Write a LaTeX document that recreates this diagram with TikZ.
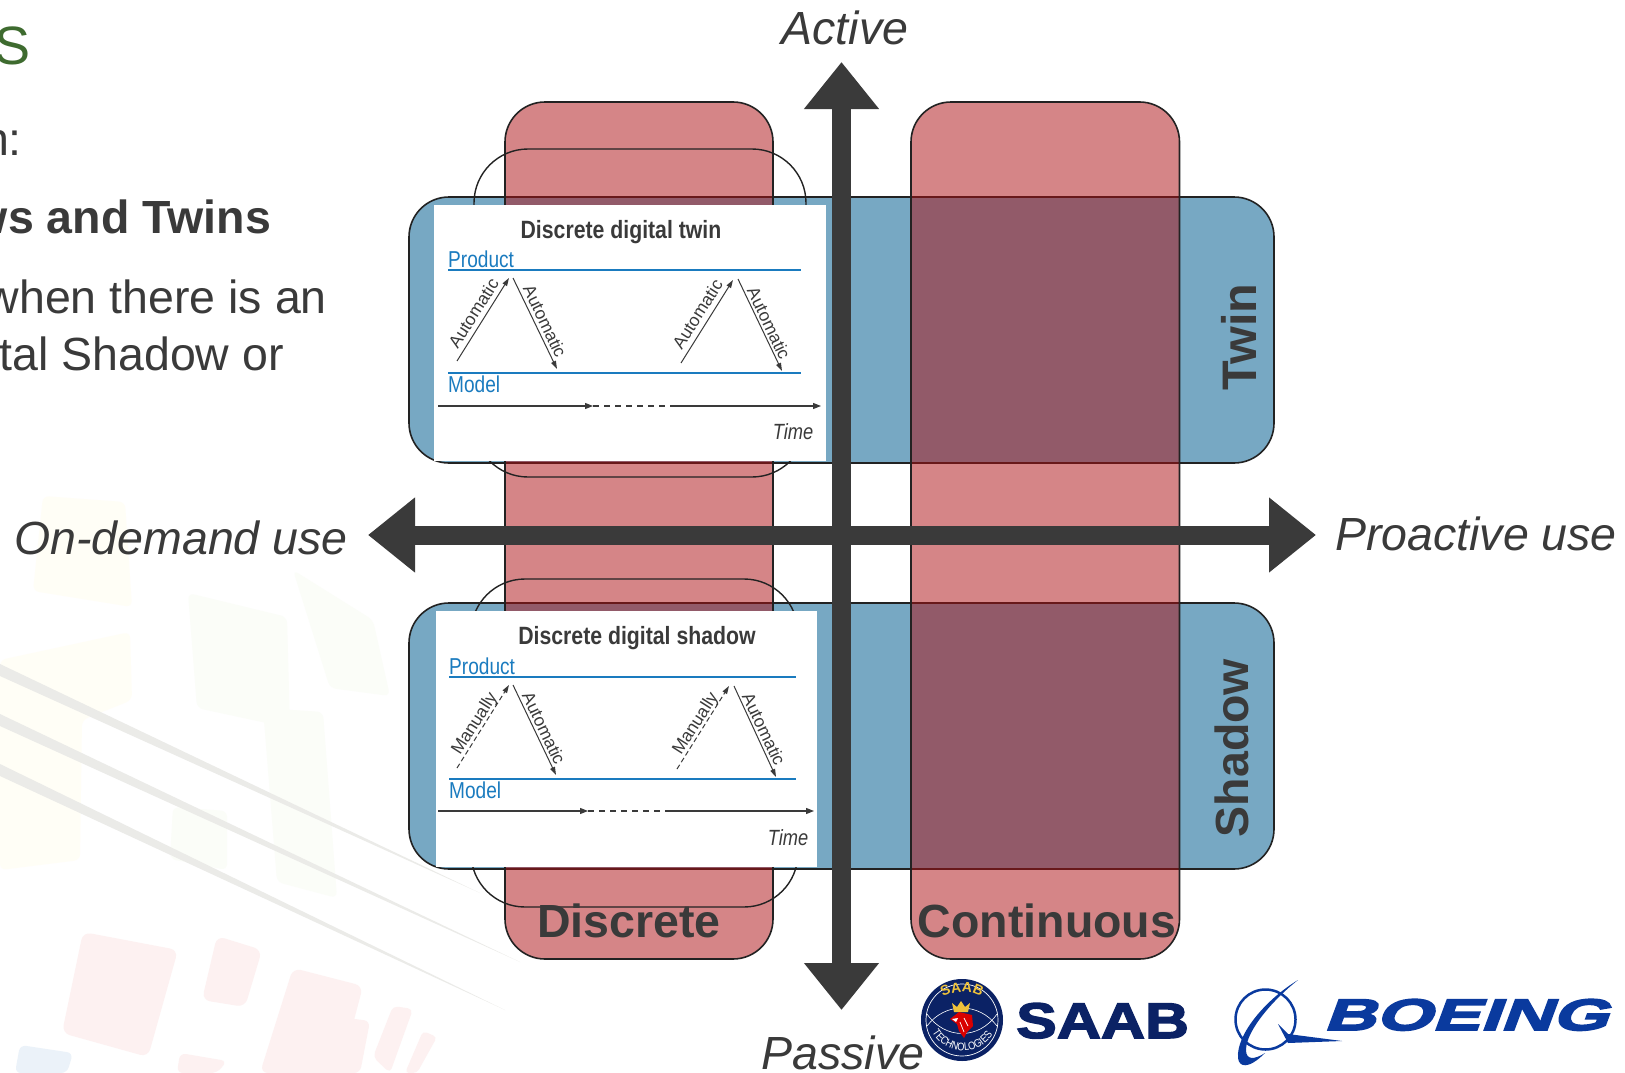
\documentclass[tikz,border=0pt]{standalone}
\usepackage{fontspec}
\setmainfont{Liberation Sans}
\newfontfamily\slimfont[FakeStretch=0.83]{Liberation Sans}
\newfontfamily\slimbold[FakeStretch=0.85]{Liberation Sans Bold}
\newfontfamily\saabfont[FakeStretch=1.22,FakeBold=3]{Liberation Sans Bold}
\newfontfamily\boeingfont[FakeStretch=1.64,FakeSlant=0.37,FakeBold=4]{Liberation Sans Bold}
\usetikzlibrary{arrows.meta,decorations.text}
\definecolor{textclr}{HTML}{3A3A3A}
\definecolor{titleclr}{HTML}{3E6B2F}
\definecolor{twinclr}{HTML}{77A8C3}
\definecolor{discclr}{RGB}{173,16,20}
\definecolor{edgeclr}{HTML}{222222}
\definecolor{lineclr}{HTML}{1A7BBF}
\definecolor{saabclr}{HTML}{0B2265}
\definecolor{saabgold}{HTML}{EFC23A}
\definecolor{boeingclr}{HTML}{0A3A9E}
\definecolor{wgrey}{HTML}{EBEBE8}
\definecolor{wred}{HTML}{FDF1F1}
\definecolor{wgreen}{HTML}{FBFDF8}
\definecolor{wyellow}{HTML}{FFFEF6}
\definecolor{wblue}{HTML}{EBF2F9}
\tikzset{
  big/.style={font=\fontsize{46.5}{46.5}\selectfont,text=textclr,inner sep=0pt},
  bigit/.style={font=\fontsize{46.5}{46.5}\selectfont\itshape,text=textclr,inner sep=0pt},
  bigbf/.style={font=\fontsize{46.5}{46.5}\selectfont\bfseries,text=textclr,inner sep=0pt},
  band/.style={draw=edgeclr,line width=1.6pt,fill=twinclr,rounded corners=40pt},
  strip/.style={draw=edgeclr,line width=1.6pt,fill=discclr,fill opacity=.51,rounded corners=40pt},
  ghost/.style={draw=edgeclr,line width=1.4pt,rounded corners=54pt},
  sheet/.style={fill=white},
  axisline/.style={draw=textclr,line width=19pt,{Triangle[length=47pt,width=72pt]}-{Triangle[length=47pt,width=72pt]}},
  levelline/.style={draw=lineclr,line width=1.5pt},
  levellabel/.style={font=\fontsize{23}{23}\selectfont\slimfont,text=lineclr,inner sep=0pt,anchor=base west},
  sheettitle/.style={font=\fontsize{25}{25}\selectfont\slimbold,text=textclr,inner sep=0pt},
  timelabel/.style={font=\fontsize{22}{22}\selectfont\slimfont\itshape,text=textclr,inner sep=0pt},
  linklabel/.style={font=\fontsize{17.5}{17.5}\selectfont,text=textclr,inner sep=0pt},
  autolink/.style={draw=textclr,line width=1pt,-{Triangle[length=8pt,width=5pt]}},
  manlink/.style={autolink,dash pattern=on 5pt off 3pt},
  timeline/.style={draw=textclr,line width=1.2pt,-{Triangle[length=8pt,width=6pt]}},
  timegap/.style={draw=textclr,line width=1.2pt,dash pattern=on 6pt off 5pt},
}
\begin{document}
\begin{tikzpicture}[x=1pt,y=-1pt]
\useasboundingbox (0,0) rectangle (1625,1073);
\fill[white] (0,0) rectangle (1625,1073);
\fill[wyellow,rounded corners=6pt] (43,496) -- (125,502) -- (132,607) -- (33,591) -- cycle;
\fill[wyellow,rounded corners=6pt] (0,660) -- (130,632) -- (132,700) -- (82,720) -- (80,860) -- (0,870) -- cycle;
\fill[wgreen,rounded corners=6pt] (188,593) -- (287,617) -- (290,728) -- (197,708) -- cycle;
\fill[wgreen,rounded corners=6pt] (293,570) -- (373,620) -- (390,696) -- (330,688) -- cycle;
\fill[wgreen,rounded corners=6pt] (263,708) -- (323,712) -- (337,898) -- (277,882) -- cycle;
\fill[wgreen,rounded corners=6pt] (173,807) -- (227,811) -- (227,870) -- (170,859) -- cycle;
\fill[wred,rounded corners=8pt] (83,932) -- (178,950) -- (148,1057) -- (62,1033) -- cycle;
\fill[wred,rounded corners=8pt] (217,936) -- (262,950) -- (245,1007) -- (202,1000) -- cycle;
\fill[wred,rounded corners=8pt] (293,968) -- (363,986) -- (340,1073) -- (260,1073) -- cycle;
\fill[wred,rounded corners=6pt] (340,1017) -- (370,1021) -- (360,1073) -- (327,1073) -- cycle;
\fill[wred,rounded corners=5pt] (393,1006) -- (413,1009) -- (390,1073) -- (373,1057) -- cycle;
\fill[wred,rounded corners=4pt] (423,1031) -- (437,1037) -- (417,1073) -- (405,1073) -- cycle;
\fill[wred,rounded corners=6pt] (180,1053) -- (227,1061) -- (217,1073) -- (177,1073) -- cycle;
\fill[wblue,rounded corners=6pt] (20,1045) -- (73,1053) -- (67,1073) -- (15,1073) -- cycle;
\fill[wgrey] (0,664) -- (480,893) -- (0,676) -- cycle;
\fill[wgrey] (0,714) -- (520,962) -- (0,726) -- cycle;
\fill[wgrey] (0,764) -- (505,1010) -- (0,776) -- cycle;
\node[big,anchor=base east,font=\fontsize{54}{54}\selectfont,text=titleclr] (headline) at (31,65) {S};
\node[big,anchor=base east] (introline) at (22,155) {n:};
\node[bigbf,anchor=base east] (boldline) at (271,233) {ws and Twins};
\node[big,anchor=base east] (whenline) at (327,313) {when there is an};
\node[big,anchor=base east] (shadowline) at (284,370) {tal Shadow or};
\path[band] (409,197) rectangle (1274,463);
\path[band] (409,603) rectangle (1274,869);
\path[strip] (505,102) rectangle (773,959);
\path[strip] (911,102) rectangle (1179.5,959);
\draw[ghost] (474,300) -- (474,149) -- (806,149) -- (806,300);
\draw[ghost] (474,380) -- (474,477) -- (806,477) -- (806,380);
\draw[ghost] (471,700) -- (471,579) -- (798,579) -- (798,700);
\draw[ghost] (471,780) -- (471,907) -- (798,907) -- (798,780);
\fill[sheet] (434,205) rectangle (826,461);
\fill[sheet] (436,611) rectangle (817,867);
\node[sheettitle] (twintitle) at (621,232) {Discrete digital twin};
\node[levellabel] (twinproduct) at (448,267) {Product};
\node[levellabel] (twinmodel) at (448,392) {Model};
\coordinate (twinpa) at (448,270);
\coordinate (twinpb) at (801,270);
\coordinate (twinma) at (448,373);
\coordinate (twinmb) at (801,373);
\draw[levelline] (twinpa) -- (twinpb);
\draw[levelline] (twinma) -- (twinmb);
\coordinate (tua) at (457,361);
\coordinate (tub) at (509,278);
\coordinate (tda) at (513,278);
\coordinate (tdb) at (557,369);
\coordinate (tuc) at (681,363);
\coordinate (tud) at (733,280);
\coordinate (tdc) at (738,279);
\coordinate (tdd) at (782,371);
\draw[autolink] (tua) -- (tub);
\draw[autolink] (tda) -- (tdb);
\draw[autolink] (tuc) -- (tud);
\draw[autolink] (tdc) -- (tdd);
\node[linklabel,rotate=57.5] (tl1) at (473.5,313) {Automatic};
\node[linklabel,rotate=-64.5] (tl2) at (545,321) {Automatic};
\node[linklabel,rotate=57.5] (tl3) at (697.5,314) {Automatic};
\node[linklabel,rotate=-64.5] (tl4) at (769,323) {Automatic};
\coordinate (tta) at (438,406);
\coordinate (ttb) at (593,406);
\coordinate (ttc) at (672,406);
\coordinate (ttd) at (821,406);
\draw[timeline] (tta) -- (ttb);
\draw[timegap] (ttb) -- (ttc);
\draw[timeline] (ttc) -- (ttd);
\node[timelabel] (twintime) at (793,432) {Time};
\node[sheettitle] (shadowtitle) at (637,638) {Discrete digital shadow};
\node[levellabel] (shadowproduct) at (449,674) {Product};
\node[levellabel] (shadowmodel) at (449,798) {Model};
\coordinate (shadowpa) at (449,677);
\coordinate (shadowpb) at (796,677);
\coordinate (shadowma) at (449,779);
\coordinate (shadowmb) at (796,779);
\draw[levelline] (shadowpa) -- (shadowpb);
\draw[levelline] (shadowma) -- (shadowmb);
\coordinate (sua) at (457,768);
\coordinate (sub) at (509,685);
\coordinate (sda) at (513,685);
\coordinate (sdb) at (556,775);
\coordinate (suc) at (677,769);
\coordinate (sud) at (729,686);
\coordinate (sdc) at (734,686);
\coordinate (sdd) at (776,777);
\draw[manlink] (sua) -- (sub);
\draw[autolink] (sda) -- (sdb);
\draw[manlink] (suc) -- (sud);
\draw[autolink] (sdc) -- (sdd);
\node[linklabel,rotate=57.5] (sl1) at (475,724) {Manually};
\node[linklabel,rotate=-64.5] (sl2) at (544,728) {Automatic};
\node[linklabel,rotate=57.5] (sl3) at (696,724) {Manually};
\node[linklabel,rotate=-64.5] (sl4) at (764,729) {Automatic};
\coordinate (sta) at (438,811);
\coordinate (stb) at (588,811);
\coordinate (stc) at (668,811);
\coordinate (std) at (814,811);
\draw[timeline] (sta) -- (stb);
\draw[timegap] (stb) -- (stc);
\draw[timeline] (stc) -- (std);
\node[timelabel] (shadowtime) at (788,838) {Time};
\coordinate (axisn) at (841.5,62);
\coordinate (axiss) at (841.5,1010);
\coordinate (axisw) at (368,535);
\coordinate (axise) at (1316,535);
\draw[axisline] (axisw) -- (axise);
\draw[axisline] (axisn) -- (axiss);
\node[bigit] (active) at (845,28) {Active};
\node[bigit] (passive) at (843,1053) {Passive};
\node[bigit] (ondemand) at (181,538) {On-demand use};
\node[bigit] (proactive) at (1476,534) {Proactive use};
\node[bigbf,rotate=90,font=\fontsize{48.5}{48.5}\selectfont\bfseries] (twin) at (1238.5,337) {Twin};
\node[bigbf,rotate=90] (shadow) at (1232,748) {Shadow};
\node[bigbf] (discrete) at (629,921) {Discrete};
\node[bigbf] (continuous) at (1047,921) {Continuous};
\node[circle,fill=saabclr,minimum size=82pt,inner sep=0pt] (saabseal) at (962,1020) {};
\draw[white,line width=.7pt] (saabseal.center) circle (36pt);
\draw[white,line width=.6pt] (927,1026) .. controls (945,1002) and (979,1002) .. (997,1026);
\draw[white,line width=.6pt] (927,1014) .. controls (945,1040) and (979,1040) .. (997,1014);
\path[decorate,decoration={text along path,text align=center,text={|\fontsize{14}{14}\selectfont\bfseries\color{saabgold}|SAAB}}] (938,1001) .. controls (950,989) and (974,989) .. (986,1001);
\fill[saabgold] (954,1012) -- (952,1003) -- (957,1007) -- (961,1001) -- (965,1007) -- (970,1003) -- (968,1012) -- cycle;
\fill[red!85!black] (950,1019) -- (959,1012) -- (972,1015) -- (973,1026) -- (967,1032) -- (964,1038) -- (959,1031) -- (957,1024) -- cycle;
\fill[white] (952,1019) -- (958,1018) -- (956,1022) -- cycle;
\draw[white,line width=.7pt] (964,1018) -- (968,1026) (960,1022) -- (964,1032);
\path[decorate,decoration={text along path,text align=center,text={|\fontsize{11}{11}\selectfont\slimfont\color{white}|TECHNOLOGIES}}] (932,1032) .. controls (945,1055) and (978,1058) .. (993,1034);
\node[inner sep=0pt,anchor=base west,font=\fontsize{50}{50}\selectfont\saabfont,text=saabclr] (saabword) at (1016,1038) {SAAB};
\draw[boeingclr,line width=2.5pt] (1265.5,1019.5) circle (30pt);
\fill[boeingclr] (1298,980) .. controls (1265,1000) and (1236,1035) .. (1238,1058) .. controls (1239,1067) and (1248,1070) .. (1265,1053) .. controls (1254,1060) and (1246,1060) .. (1246,1050) .. controls (1246,1030) and (1275,998) .. (1298,980) -- cycle;
\fill[boeingclr] (1278,1024) -- (1288,1034) -- (1342,1041) -- (1288,1043) -- cycle;
\node[inner sep=0pt,anchor=base west,font=\fontsize{44}{44}\selectfont\boeingfont,text=boeingclr] (boeingword) at (1323,1030) {BOEING};
\end{tikzpicture}
\end{document}
